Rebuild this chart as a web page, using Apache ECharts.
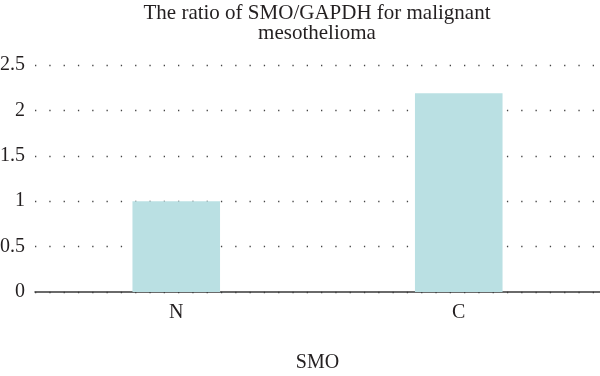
<!DOCTYPE html>
<html>
<head>
<meta charset="utf-8">
<script src="https://cdn.jsdelivr.net/npm/echarts@6/dist/echarts.min.js"></script>
<style>
  html, body { margin: 0; padding: 0; background: #fff; }
  #chart { width: 600px; height: 376px; }
</style>
</head>
<body>
<div id="chart"></div>
<script>
// data
const categories = ['N', 'C'];
const ratios = [1.0, 2.19];
const yTicks = { min: 0, max: 2.5, step: 0.5 };

const serif = '"Liberation Serif", "DejaVu Serif", serif';

const chart = echarts.init(document.getElementById('chart'));
chart.setOption({
  animation: false,
  title: {
    text: 'The ratio of SMO/GAPDH for malignant\nmesothelioma',
    left: 312,
    top: -2,
    textAlign: 'center',
    textStyle: {
      fontFamily: serif,
      fontWeight: 'normal',
      fontSize: 21,
      lineHeight: 20,
      color: '#231f20'
    }
  },
  grid: { left: 35, right: 0, top: 65, bottom: 84, outerBoundsMode: 'none' },
  xAxis: {
    type: 'category',
    data: categories,
    name: 'SMO',
    nameLocation: 'middle',
    nameGap: 61,
    nameTextStyle: { fontFamily: serif, fontSize: 20, color: '#231f20' },
    axisLine: { lineStyle: { color: '#3a3a3a', width: 1.5 } },
    axisTick: { show: false },
    axisLabel: { fontFamily: serif, fontSize: 20, color: '#231f20', margin: 11 }
  },
  yAxis: {
    type: 'value',
    min: yTicks.min,
    max: yTicks.max,
    interval: yTicks.step,
    axisLine: { show: false },
    axisTick: { show: false },
    axisLabel: { fontFamily: serif, fontSize: 20, color: '#231f20', margin: 10 },
    splitLine: { lineStyle: { color: '#444', width: 1.3, type: [1.3, 13] } }
  },
  series: [{
    type: 'bar',
    data: ratios,
    barWidth: '31%',
    itemStyle: { color: '#bae0e3' }
  }]
});
</script>
</body>
</html>
